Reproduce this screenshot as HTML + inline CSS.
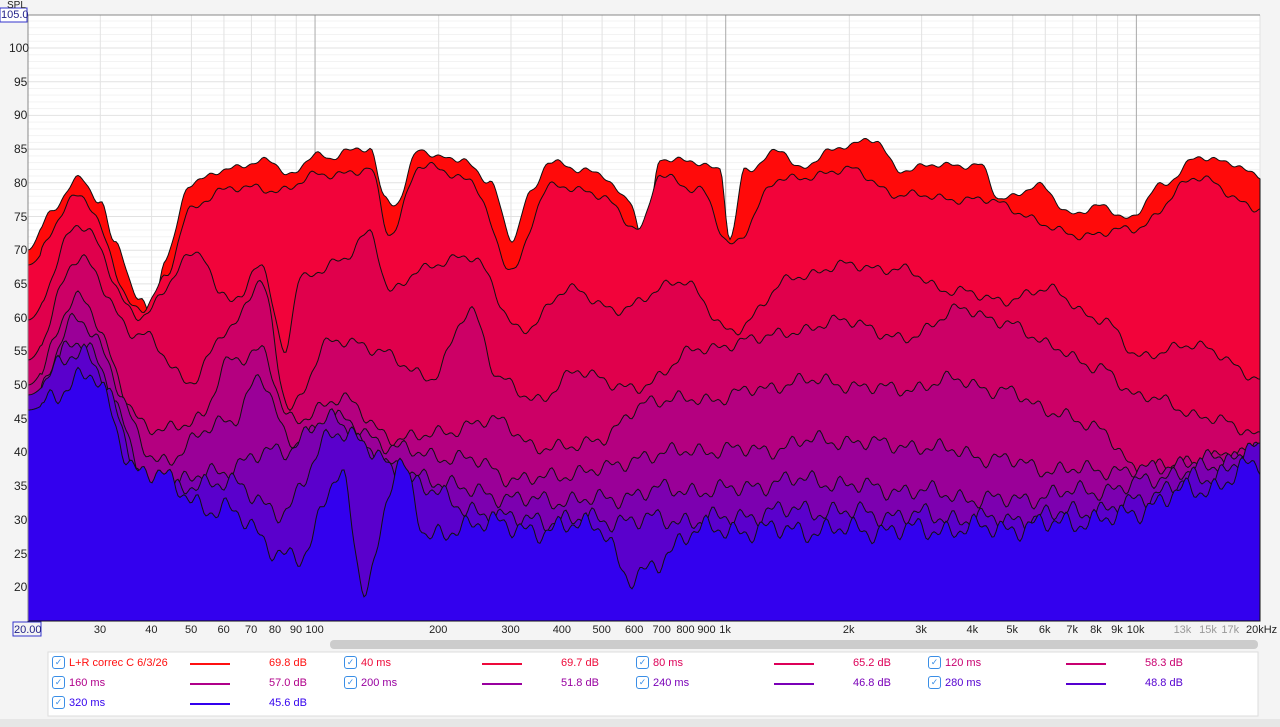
<!DOCTYPE html>
<html><head><meta charset="utf-8"><style>
body{margin:0;width:1280px;height:727px;background:#f4f4f4;font-family:"Liberation Sans",sans-serif;overflow:hidden;position:relative}
.t{position:absolute;font-size:11px;color:#222;white-space:nowrap}
</style></head><body>
<svg id="s" width="1280" height="727" style="position:absolute;left:0;top:0" xmlns="http://www.w3.org/2000/svg">
<rect x="28" y="15" width="1232" height="606" fill="#fff"/>
<g id="grid"></g><g id="curves"></g>
<line x1="28" y1="15" x2="1260" y2="15" stroke="#888"/>
<line x1="28" y1="15" x2="28" y2="621" stroke="#888"/>
<rect x="13" y="9" width="14" height="1" fill="none"/>
<rect x="330" y="640" width="928" height="9" rx="4" fill="#ccc"/>
<rect x="48" y="652" width="1210" height="64" fill="#fff" stroke="#ddd"/>
<rect x="0" y="719" width="1280" height="8" fill="#e6e6e6"/>
<rect x="13" y="622" width="28" height="14" fill="none" stroke="#33c"/>
<rect x="0" y="8" width="27" height="14" fill="#fff" stroke="#33c"/>
</svg>
<div class="t" style="left:7px;top:0px;font-size:10px">SPL</div>
<div class="t" style="left:1px;top:9px;color:#228">105.0</div>
<div id="lab"></div>
<script>
const S=document.getElementById('s'),G=document.getElementById('grid'),C=document.getElementById('curves'),L=document.getElementById('lab');
const X=f=>28+1232*Math.log10(f/20)/3, Y=d=>48+(100-d)*6.74;
let g='';
for(let d=16;d<=104;d++){g+=`<line x1="28" x2="1260" y1="${Y(d)}" y2="${Y(d)}" stroke="${d%5?'#f3f3f3':'#e2e2e2'}"/>`;}
const fs=[];for(let dec of [10,100,1000,10000])for(let k=1;k<10;k++){let f=dec*k;if(f>=20&&f<=20000)fs.push(f);}
fs.forEach(f=>{let maj=[100,1000,10000].includes(f);g+=`<line y1="15" y2="621" x1="${X(f)}" x2="${X(f)}" stroke="${maj?'#aaa':'#e2e2e2'}"/>`;});
G.innerHTML=g;
let h='';
for(let d=20;d<=100;d+=5)h+=`<div class="t" style="left:${d==100?9:14}px;top:${Y(d)-7}px;font-size:12px">${d}</div>`;
const xl=[[30,'30'],[40,'40'],[50,'50'],[60,'60'],[70,'70'],[80,'80'],[90,'90'],[100,'100'],[200,'200'],[300,'300'],[400,'400'],[500,'500'],[600,'600'],[700,'700'],[800,'800'],[900,'900'],[1000,'1k'],[2000,'2k'],[3000,'3k'],[4000,'4k'],[5000,'5k'],[6000,'6k'],[7000,'7k'],[8000,'8k'],[9000,'9k'],[10000,'10k'],[13000,'13k'],[15000,'15k'],[17000,'17k']];
xl.forEach(([f,t])=>{let gr=[13000,15000,17000].includes(f);h+=`<div class="t" style="left:${X(f)-t.length*3.2}px;top:624px;color:${gr?'#999':'#222'}">${t}</div>`;});
h+=`<div class="t" style="left:14px;top:624px;color:#228">20.00</div><div class="t" style="left:1246px;top:624px">20kHz</div>`;
const leg=[['L+R correc C 6/3/26','69.8 dB','#ff1010'],['40 ms','69.7 dB','#ee0a3a'],['80 ms','65.2 dB','#dd0058'],['120 ms','58.3 dB','#c80070'],['160 ms','57.0 dB','#b0008a'],['200 ms','51.8 dB','#9800a0'],['240 ms','46.8 dB','#7a00b8'],['280 ms','48.8 dB','#5500d0'],['320 ms','45.6 dB','#3300ee']];
leg.forEach((l,i)=>{let c=i%4,r=Math.floor(i/4),x=52+c*292,y=657+r*20;
h+=`<div class="t" style="left:${x}px;top:${y-1}px;width:11px;height:11px;border:1px solid #3a8ee6;border-radius:3px;font-size:9px;color:#3a8ee6;text-align:center;line-height:11px">✓</div>`;
h+=`<div class="t" style="left:${x+17}px;top:${y}px;color:${l[2]}">${l[0]}</div>`;
h+=`<div class="t" style="left:${x+138}px;top:${y+6}px;width:40px;height:2px;background:${l[2]}"></div>`;
h+=`<div class="t" style="left:${x+217}px;top:${y}px;color:${l[2]}">${l[1]}</div>`;});
L.innerHTML=h;
const P=[
[[28,250],[50,215],[78,177],[100,200],[115,245],[140,300],[152,315],[165,260],[190,185],[220,170],[250,165],[270,160],[290,175],[315,155],[330,160],[345,150],[370,148],[385,200],[395,205],[420,148],[440,158],[460,160],[490,180],[512,240],[530,195],[550,160],[580,170],[600,175],[630,200],[645,250],[660,160],[690,160],[720,170],[730,240],[745,170],[780,150],[800,170],[830,150],[850,145],[875,140],[900,170],[940,165],[980,165],[1000,200],[1040,185],[1070,215],[1100,205],[1130,220],[1160,185],[1200,158],[1230,162],[1260,177]],
[[28,265],[78,195],[140,310],[165,280],[190,210],[220,190],[250,188],[280,190],[320,175],[370,170],[390,235],[420,165],[470,180],[512,270],[550,185],[600,195],[640,230],[660,175],[700,190],[730,245],[780,180],[850,170],[900,195],[980,200],[1080,235],[1130,230],[1200,178],[1260,210]],
[[28,320],[78,225],[140,315],[200,250],[220,295],[240,300],[260,260],[285,350],[300,280],[340,260],[370,235],[390,290],[420,270],[470,255],[520,330],[570,290],[620,310],[680,280],[730,330],[800,275],[850,265],[900,270],[950,290],[1000,300],[1050,290],[1100,320],[1140,355],[1200,345],[1260,380]],
[[28,360],[78,260],[140,335],[190,380],[230,330],[260,280],[290,410],[330,340],[380,350],[430,380],[470,310],[500,380],[540,400],[580,370],[630,390],[700,350],[750,340],[800,330],[850,320],[900,340],[960,310],[1000,320],[1050,345],[1100,370],[1140,395],[1200,415],[1260,435]],
[[28,385],[78,300],[150,430],[200,420],[230,360],[260,350],[290,420],[340,400],[400,440],[450,430],[500,420],[540,450],[600,440],[650,400],[700,400],[760,390],[800,380],[850,385],[900,390],[950,380],[1000,390],[1050,410],[1100,430],[1140,470],[1200,460],[1260,450]],
[[28,405],[78,320],[160,460],[230,420],[260,380],[290,440],[340,420],[400,450],[470,460],[520,480],[600,470],[650,455],[700,450],[760,450],[820,440],[900,445],[950,450],[1000,460],[1060,470],[1140,470],[1200,460],[1260,455]],
[[28,410],[78,340],[160,490],[220,470],[280,450],[330,420],[400,470],[470,490],[520,500],[600,500],[660,490],[720,490],[800,480],[900,490],[1000,500],[1100,490],[1200,470],[1260,448]],
[[28,395],[78,350],[160,495],[220,480],[280,510],[340,430],[410,480],[470,510],[520,520],[600,520],[700,520],[800,510],[900,515],[1000,520],[1100,510],[1200,480],[1260,450]],
[[28,410],[88,375],[140,470],[220,510],[300,560],[340,470],[365,590],[400,460],[430,540],[480,520],[520,530],[600,525],[630,580],[700,530],[800,530],[900,530],[1000,528],[1100,520],[1200,490],[1260,465]]];
const fills=['#ff0a0a','#f2033a','#e0004c','#cc0066','#b40080','#9a0098','#7c00b0','#5a00cc','#3300ee'];
function interp(pts,x){for(let i=0;i<pts.length-1;i++){if(x<=pts[i+1][0]){let a=pts[i],b=pts[i+1],t=(x-a[0])/(b[0]-a[0]);t=(1-Math.cos(t*Math.PI))/2;return a[1]+(b[1]-a[1])*t;}}return pts[pts.length-1][1];}
let out='';
P.forEach((pts,k)=>{let d='M28,621';let amp=2+k*0.6;
for(let x=28;x<=1260;x+=2){let y=interp(pts,x);if(x>40)y+=amp*(Math.sin(x*0.21+k*1.7)+0.7*Math.sin(x*0.47+k*3.1)+0.5*Math.sin(x*0.093+k));y=Math.min(y,619);d+=`L${x},${y.toFixed(1)}`;}
d+='L1260,621Z';out+=`<path d="${d}" fill="${fills[k]}" stroke="#111" stroke-width="1"/>`;});
C.innerHTML=out;
</script>
</body></html>
